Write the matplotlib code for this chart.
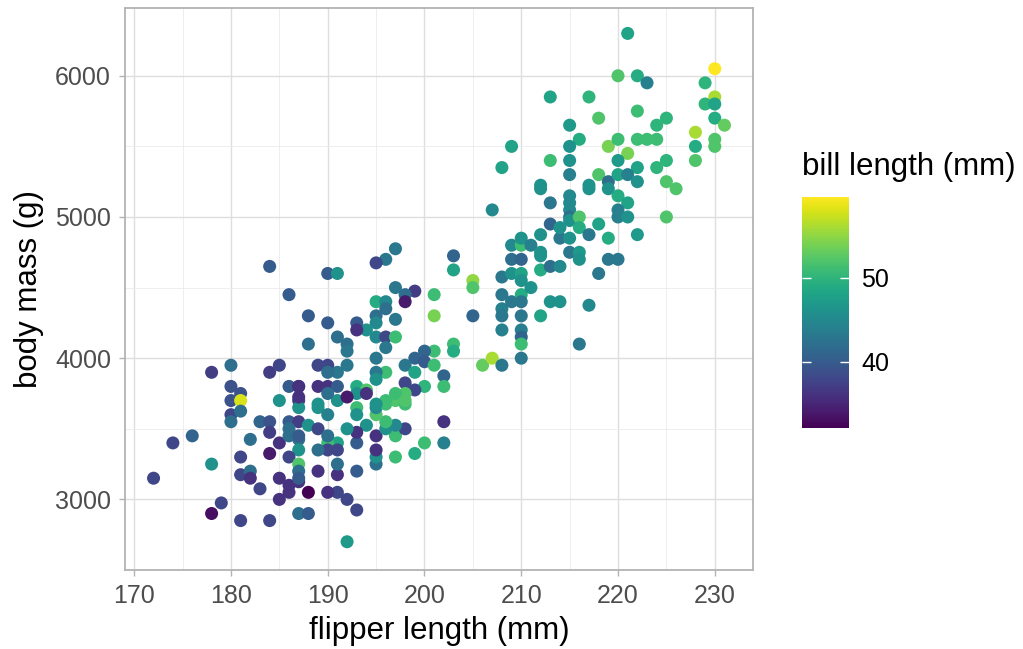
import matplotlib
matplotlib.use("Agg")
import matplotlib.pyplot as plt
import numpy as np
from matplotlib import cm, colors

plt.rcParams['font.family'] = ['Liberation Sans', 'DejaVu Sans']

# (flipper length mm, body mass g, bill length mm)
flipper = [
    184, 186, 180, 178, 184, 185, 180, 181, 180, 181, 186, 187, 185, 187,
    180, 181, 180, 183, 184, 186, 187, 186, 184, 185, 187, 187, 176, 174,
    182, 184, 181, 186, 178, 187, 187, 172, 181, 182, 182, 185, 186, 183,
    186, 187, 185, 179, 178, 181, 184, 187,
    188, 192, 193, 192, 191, 190, 188, 189, 191, 193, 191, 187, 195, 195,
    195, 195, 193, 197, 199, 200, 202, 202, 197, 198, 196, 197, 196, 195,
    194, 193, 192, 191, 190, 190, 189, 191, 188, 189, 190, 189, 190, 191,
    193, 193, 195, 196, 197, 198, 187, 186, 187,
    203, 203, 197, 196, 195, 190, 191, 197, 199, 198, 198, 201, 201, 195,
    196, 196, 195, 197, 195, 194, 193, 193, 188, 190, 195, 196, 197, 191,
    192, 192, 196, 188, 195, 203, 203, 201, 200, 199, 200, 201, 198, 199,
    196, 195, 195, 202, 202, 200, 198, 199, 198, 197, 198, 196, 195, 192,
    191, 190, 189, 190, 187, 189, 190, 191, 193, 194, 193, 190, 192, 187,
    189, 194,
    205, 205, 205, 206, 207, 208,
    207, 208, 208, 208, 208, 208, 209, 209, 209, 209, 210, 210, 210, 210,
    210, 210, 210, 210, 210, 210, 210, 210, 211, 211, 212, 212, 212, 212,
    213, 213, 213, 212, 214, 214, 214, 214, 215, 215, 215, 215, 215, 215,
    215, 216, 216, 216, 216, 216, 217, 217, 218, 218, 217, 219, 219, 212,
    213,
    213, 217, 218, 215, 216, 215, 215, 215, 213, 209, 208, 218, 219, 219,
    212, 217,
    221, 230, 229, 230, 229, 230, 230, 231, 228, 228, 228, 230, 230, 220,
    222, 223, 222, 225, 224, 220, 222, 223, 224, 221, 220, 225, 224, 222,
    220, 221, 225, 226, 222,
    219, 220, 221, 220, 220, 221, 222, 220, 225,
]
body_mass = [
    4650, 4450, 3950, 3900, 3900, 3950, 3800, 3750, 3700, 3700, 3800, 3800, 3700, 3700,
    3600, 3625, 3550, 3550, 3550, 3550, 3550, 3500, 3475, 3400, 3425, 3350, 3450, 3400,
    3425, 3325, 3300, 3300, 3250, 3250, 3200, 3150, 3175, 3200, 3150, 3150, 3100, 3075,
    3050, 3125, 3000, 2975, 2900, 2850, 2850, 2900,
    2900, 2700, 2925, 3000, 3050, 3050, 3050, 3200, 3175, 3200, 3250, 3150, 3250, 3300,
    3350, 3450, 3400, 3300, 3325, 3400, 3400, 3550, 3450, 3500, 3500, 3525, 3550, 3600,
    3525, 3475, 3500, 3400, 3400, 3350, 3350, 3350, 3525, 3500, 3450, 3650, 3600, 3700,
    3650, 3600, 3650, 3675, 3700, 3675, 3650, 3450, 3450,
    4725, 4625, 4775, 4700, 4675, 4600, 4600, 4500, 4475, 4450, 4400, 4450, 4300, 4400,
    4400, 4350, 4300, 4275, 4250, 4200, 4250, 4200, 4300, 4250, 4150, 4150, 4150, 4150,
    4100, 4050, 4075, 4100, 4000, 4100, 4050, 4050, 4050, 4000, 3975, 3950, 3950, 3900,
    3900, 3900, 3850, 3875, 3800, 3800, 3825, 3775, 3750, 3750, 3700, 3700, 3675, 3950,
    3900, 3950, 3950, 3900, 3800, 3800, 3800, 3800, 3800, 3775, 3750, 3750, 3725, 3725,
    3675, 3750,
    4550, 4500, 4300, 3950, 4000, 3950,
    5050, 4575, 4450, 4350, 4300, 4200, 4800, 4700, 4600, 4400, 4800, 4850, 4700, 4600,
    4550, 4450, 4400, 4300, 4200, 4150, 4100, 4000, 4800, 4500, 4875, 4750, 4625, 4725,
    4950, 4650, 4400, 4300, 4400, 4650, 4850, 4925, 5150, 5100, 5050, 5000, 4975, 4850,
    4750, 5000, 4925, 4750, 4700, 4100, 4875, 4375, 4950, 4600, 5200, 4850, 4700, 5200,
    5100,
    5850, 5850, 5700, 5650, 5550, 5500, 5400, 5300, 5400, 5500, 5350, 5300, 5500, 5250,
    5225, 5225,
    6300, 6050, 5950, 5850, 5800, 5800, 5700, 5650, 5600, 5500, 5400, 5550, 5500, 6000,
    6000, 5950, 5750, 5700, 5650, 5550, 5550, 5550, 5550, 5450, 5400, 5400, 5350, 5350,
    5300, 5300, 5250, 5200, 5250,
    5200, 5150, 5100, 5050, 5000, 5000, 4875, 4700, 5000,
]
bill_length = [
    40, 40, 42, 37, 37, 38, 39, 39, 39, 58, 40, 37, 46, 37,
    38, 42, 42, 41, 39, 40, 37, 42, 37, 36, 42, 46, 41, 38,
    42, 34, 38, 38, 46, 52, 42, 38, 38, 42, 36, 36, 36, 38,
    36, 36, 36, 38, 33, 38, 38, 42,
    40, 47, 38, 38, 38, 36, 32.1, 36, 36, 40, 42, 40, 42, 46,
    36, 36, 40, 51, 49, 51, 44, 36, 51, 38, 46, 45, 51, 52,
    46, 36, 46, 48, 51, 38, 42, 38, 46, 38, 42, 46, 44, 46,
    51, 46, 45, 51, 52, 51, 46, 42, 40,
    41, 48, 43, 43, 38, 40, 46, 43, 37, 42, 34, 51, 54, 49,
    45, 42, 42, 43, 45, 46, 40, 36, 40, 40, 45, 38, 51, 42,
    42, 43, 43, 42, 43, 51, 49, 51, 41, 41, 40, 51, 43, 48,
    51, 43, 46, 41, 51, 50, 38, 38, 52, 51, 52, 51, 46, 43,
    43, 38, 38, 42, 36, 36, 36, 40, 49, 52, 46, 42, 34, 36,
    46, 36,
    55, 52, 41, 53, 56, 43,
    45, 43, 43, 44, 43, 44, 45, 42, 46, 43, 51, 46, 41, 48,
    46, 49, 43, 43, 44, 41, 51, 43, 44, 46, 46, 46, 49, 46,
    41, 42, 46, 48, 46, 45, 43, 46, 45, 45, 45, 42, 46, 46,
    43, 52, 49, 47, 46, 43, 43, 45, 48, 43, 46, 49, 43, 46,
    43,
    48, 50, 52, 47, 49, 46, 46, 44, 51, 48, 48, 52, 54, 42,
    46, 46,
    48, 59.6, 50, 56, 50, 48, 49, 53, 56, 49, 52, 52, 52, 52,
    49, 44, 51, 50, 50, 51, 51, 51, 51, 54, 47, 50, 50, 48,
    48, 44, 52, 52, 46,
    46, 49, 48, 44, 44, 46, 47, 43, 52,
]

W, H = 1023, 649
fig = plt.figure(figsize=(W / 100, H / 100), dpi=100)
ax = fig.add_axes([125 / W, 1 - 570 / H, 628 / W, 562 / H])

norm = colors.Normalize(vmin=32.1, vmax=59.6)
cmap = matplotlib.colormaps['viridis']

ax.set_axisbelow(True)
ax.scatter(flipper, body_mass, c=bill_length, cmap=cmap, norm=norm,
           s=88, linewidths=0, zorder=3)

ax.set_xlim(169.05, 233.95)
ax.set_ylim(2520, 6480)
ax.set_xticks([170, 180, 190, 200, 210, 220, 230])
ax.set_yticks([3000, 4000, 5000, 6000])
ax.set_xticks(np.arange(175, 231, 10), minor=True)
ax.set_yticks(np.arange(2500, 6500, 1000), minor=True)
ax.grid(which='major', color='#DEDEDE', linewidth=1.0)
ax.grid(which='minor', color='#EBEBEB', linewidth=0.6)
for sp in ax.spines.values():
    sp.set_color('#B3B3B3')
    sp.set_linewidth(1.3)
ax.tick_params(which='major', color='#B3B3B3', length=4, width=1,
               labelsize=18, labelcolor='#4D4D4D')
ax.tick_params(axis='x', pad=6)
ax.tick_params(axis='y', pad=6)
ax.tick_params(which='minor', length=0)
ax.set_xlabel('flipper length (mm)', fontsize=22.5, color='black', labelpad=6)
ax.set_ylabel('body mass (g)', fontsize=22.5, color='black', labelpad=8)

# colourbar in ggplot style
cax = fig.add_axes([802 / W, 1 - 428 / H, 47 / W, 231 / H])
cb = fig.colorbar(cm.ScalarMappable(norm=norm, cmap=cmap), cax=cax)
cb.outline.set_visible(False)
cb.set_ticks([40, 50])
cax.tick_params(length=0, labelsize=18, labelcolor='black', pad=9)
for v in [40, 50]:
    cax.hlines(v, 0, 0.2, color='white', linewidth=1, transform=cax.get_yaxis_transform())
    cax.hlines(v, 0.8, 1, color='white', linewidth=1, transform=cax.get_yaxis_transform())
fig.text(802 / W, 1 - 167 / H, 'bill length (mm)', fontsize=22.5, color='black',
         ha='left', va='center')

fig.savefig('out.png', dpi=100)
